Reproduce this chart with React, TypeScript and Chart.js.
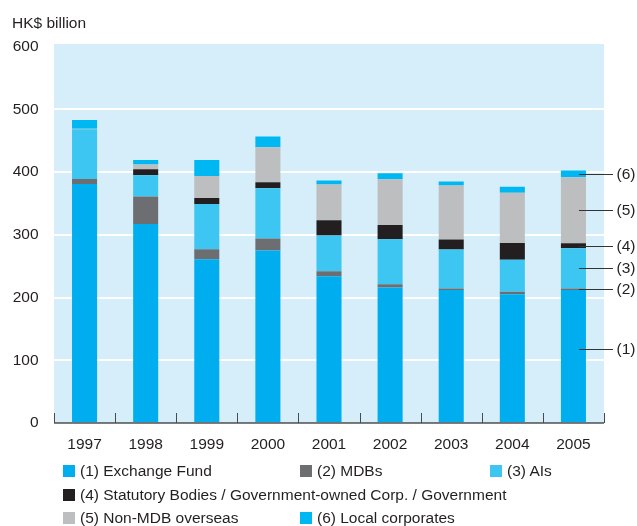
import React, { useEffect, useRef } from 'react';
import { Chart, registerables } from 'chart.js';

Chart.register(...registerables);

const categories = ['1997', '1998', '1999', '2000', '2001', '2002', '2003', '2004', '2005'];
const exchangeFund = [381, 317, 261, 275, 234, 216, 212, 205, 212];
const mdbs = [8, 44, 16, 19, 8, 5, 2.5, 4, 2.5];
const ais = [79, 34, 72, 80, 57, 72, 62, 51, 64];
const statutory = [0, 9.5, 9.5, 9.5, 24, 22.5, 16, 27, 8];
const nonMdb = [1, 7.5, 35, 56, 57, 73, 86, 80, 105];
const localCorp = [14, 7, 25.5, 17, 6.5, 9.5, 6.5, 9.5, 11];

const seriesLabels = [
  '(1) Exchange Fund',
  '(2) MDBs',
  '(3) AIs',
  '(4) Statutory Bodies / Government-owned Corp. / Government',
  '(5) Non-MDB overseas',
  '(6) Local corporates',
];
const seriesColors = ['#00AEEF', '#6D6E71', '#3EC6F3', '#231F20', '#BCBEC0', '#00B8F1'];
const calloutTags = ['(1)', '(2)', '(3)', '(4)', '(5)', '(6)'];
const calloutFractions = [0.56, 0.5, 0.5, 0.5, 0.5, 0.5];
const yMin = 0;
const yMax = 600;
const yStep = 100;
const unitLabel = 'HK$ billion';

const TEXT = '#231F20';
const FONT = '"Liberation Sans", Arial, Helvetica, sans-serif';

const bgPlugin = {
  id: 'plotBg',
  beforeDraw(chart: any) {
    const { ctx, chartArea } = chart;
    ctx.save();
    ctx.fillStyle = '#D6EEFA';
    ctx.fillRect(chartArea.left, chartArea.top - 2.5, chartArea.right - chartArea.left, chartArea.bottom - chartArea.top + 2.5);
    ctx.restore();
  },
};

const axisPlugin = {
  id: 'axisDecor',
  afterDatasetsDraw(chart: any) {
    const { ctx, chartArea } = chart;
    const n = categories.length;
    const w = (chartArea.right - chartArea.left) / n;
    ctx.save();
    ctx.globalCompositeOperation = 'multiply';
    ctx.strokeStyle = '#7d7d7d';
    ctx.lineWidth = 2;
    ctx.beginPath();
    ctx.moveTo(chartArea.left, chartArea.bottom);
    ctx.lineTo(chartArea.right, chartArea.bottom);
    ctx.stroke();
    ctx.restore();
    ctx.save();
    ctx.strokeStyle = '#4a4a4a';
    ctx.lineWidth = 1;
    for (let i = 0; i <= n; i++) {
      const x = Math.round(chartArea.left + i * w) + 0.5;
      ctx.beginPath();
      ctx.moveTo(x, chartArea.bottom);
      ctx.lineTo(x, chartArea.bottom - 10);
      ctx.stroke();
    }
    ctx.restore();
  },
};

const calloutPlugin = {
  id: 'callouts',
  afterDatasetsDraw(chart: any) {
    const { ctx, chartArea, scales } = chart;
    const last = categories.length - 1;
    const xCenter = scales.x.getPixelForValue(last);
    const ds = chart.data.datasets;
    let base = 0;
    ctx.save();
    ctx.strokeStyle = '#333333';
    ctx.lineWidth = 1;
    ctx.fillStyle = TEXT;
    ctx.font = `15.5px ${FONT}`;
    ctx.textBaseline = 'middle';
    ctx.textAlign = 'left';
    for (let i = 0; i < ds.length; i++) {
      const v = ds[i].data[last] as number;
      const anchor = base + v * calloutFractions[i];
      base += v;
      const y = Math.round(scales.y.getPixelForValue(anchor)) + 0.5;
      const x0 = xCenter + 5.5;
      const x1 = chartArea.right + 9;
      ctx.beginPath();
      ctx.moveTo(x0, y);
      ctx.lineTo(x1, y);
      ctx.stroke();
      ctx.fillText(calloutTags[i], x1 + 3.5, y + 0.5);
    }
    ctx.restore();
  },
};

const legendRows: { idx: number; col: number; row: number }[] = [
  { idx: 0, col: 0, row: 0 },
  { idx: 1, col: 1, row: 0 },
  { idx: 2, col: 2, row: 0 },
  { idx: 3, col: 0, row: 1 },
  { idx: 4, col: 0, row: 2 },
  { idx: 5, col: 1, row: 2 },
];
const legendColX = [63, 300, 490];
const legendRowY = [471, 495, 518];

export default function App() {
  const canvasRef = useRef<HTMLCanvasElement | null>(null);

  useEffect(() => {
    const canvas = canvasRef.current;
    if (!canvas) return;
    const values = [exchangeFund, mdbs, ais, statutory, nonMdb, localCorp];
    const chart = new Chart(canvas, {
      type: 'bar',
      data: {
        labels: categories,
        datasets: values.map((d, i) => ({
          label: seriesLabels[i],
          data: d,
          backgroundColor: seriesColors[i],
          borderWidth: 0,
          barPercentage: 0.41,
          categoryPercentage: 1,
          stack: 's',
        })),
      },
      options: {
        responsive: false,
        animation: false,
        layout: { padding: { left: 0, right: 33, top: 46.5, bottom: 0 } },
        plugins: {
          legend: { display: false },
          tooltip: { enabled: false },
          title: { display: false },
        },
        scales: {
          x: {
            stacked: true,
            grid: { display: false, drawTicks: false },
            border: { display: false },
            ticks: { color: TEXT, font: { family: FONT, size: 15.5 }, padding: 12, maxRotation: 0 },
            afterFit(scale: any) {
              scale.height = 103;
            },
          },
          y: {
            stacked: true,
            min: yMin,
            max: yMax,
            grid: {
              color: (c: any) => (c.tick && (c.tick.value === yMax || c.tick.value === yMin) ? 'rgba(0,0,0,0)' : '#FFFFFF'),
              lineWidth: 2,
              drawTicks: false,
            },
            border: { display: false },
            ticks: { stepSize: yStep, color: TEXT, font: { family: FONT, size: 15.5 }, padding: 15.5 },
            afterFit(scale: any) {
              scale.width = 54;
            },
          },
        },
      },
      plugins: [bgPlugin, axisPlugin, calloutPlugin],
    });
    return () => chart.destroy();
  }, []);

  return (
    <div style={{ position: 'absolute', left: 0, top: 0, width: 637, height: 526, background: '#fff', overflow: 'hidden' }}>
      <canvas ref={canvasRef} width={637} height={526} style={{ width: 637, height: 526, display: 'block' }} />
      <div
        style={{
          position: 'absolute',
          left: 12,
          top: 14,
          font: `15.5px ${FONT}`,
          color: TEXT,
          lineHeight: '18px',
          whiteSpace: 'nowrap',
        }}
      >
        {unitLabel}
      </div>
      {legendRows.map((it) => (
        <div
          key={it.idx}
          style={{
            position: 'absolute',
            left: legendColX[it.col],
            top: legendRowY[it.row] - 9,
            height: 18,
            display: 'flex',
            alignItems: 'center',
            whiteSpace: 'nowrap',
            font: `15.5px ${FONT}`,
            color: TEXT,
          }}
        >
          <span style={{ display: 'inline-block', width: 12, height: 12, background: seriesColors[it.idx], marginRight: 5 }} />
          <span>{seriesLabels[it.idx]}</span>
        </div>
      ))}
    </div>
  );
}
